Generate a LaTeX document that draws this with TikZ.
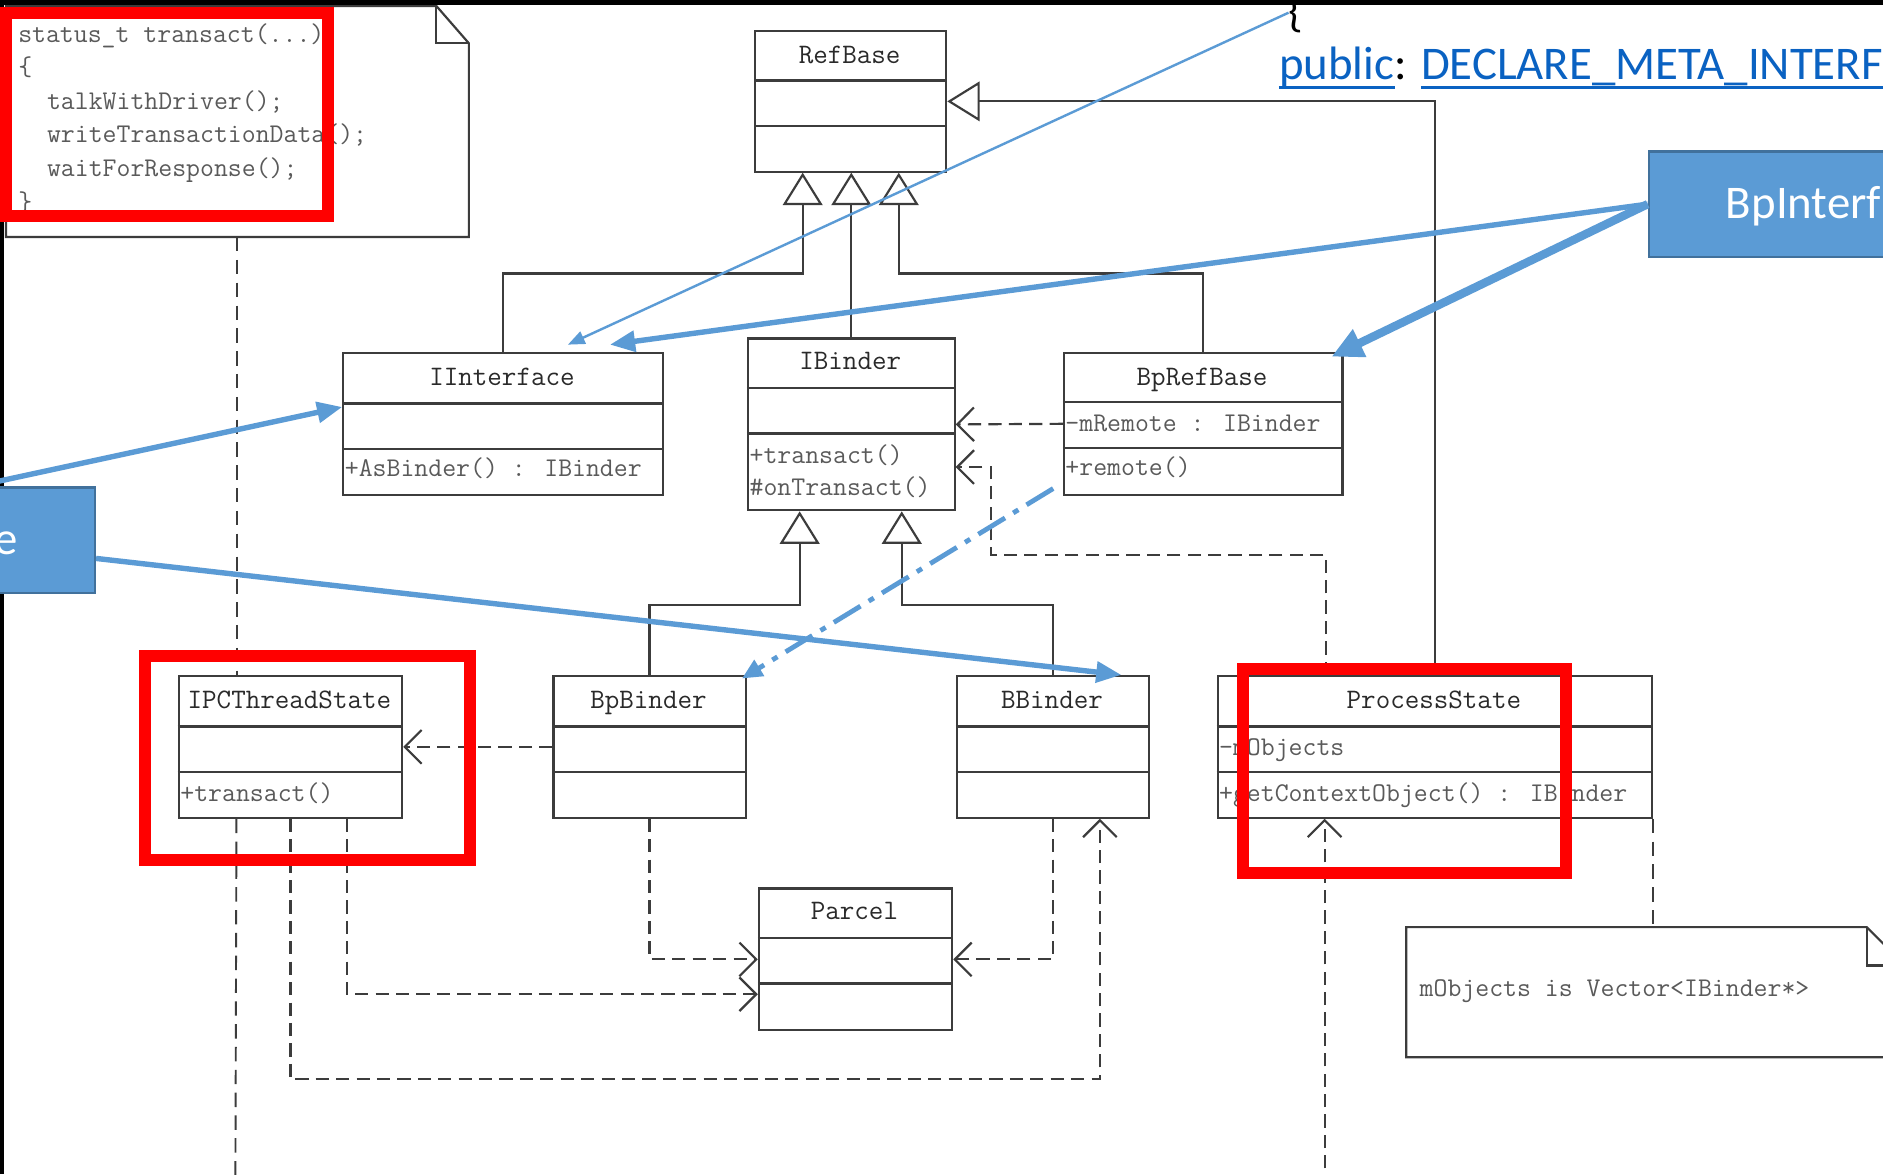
\documentclass[tikz,border=0pt]{standalone}
\usepackage{fontspec}
\newfontfamily\calibri{Carlito}
\usetikzlibrary{arrows.meta,positioning}

\definecolor{umlline}{HTML}{3C3C3C}
\definecolor{umlname}{HTML}{2A2A2A}
\definecolor{umltext}{HTML}{5A5A5A}
\definecolor{hlred}{HTML}{FF0000}
\definecolor{callblue}{HTML}{5B9BD5}
\definecolor{callborder}{HTML}{41719C}
\definecolor{linkblue}{HTML}{0A62C2}

\begin{document}
\begin{tikzpicture}[x=1pt, y=-1pt,
  cls/.style = {draw=umlline, line width=1.8pt, fill=white, inner sep=0pt, anchor=north west},
  clsname/.style = {font=\ttfamily\fontsize{23.5}{28}\selectfont, text=umlname, inner sep=0pt, anchor=base},
  member/.style = {font=\ttfamily\fontsize{22.5}{27}\selectfont, text=umltext, inner sep=0pt, anchor=base west},
  divider/.style = {draw=umlline, line width=1.8pt},
  inherit/.style = {draw=umlline, line width=1.8pt, -{Triangle[open, length=27pt, width=33pt]}},
  dep/.style = {draw=umlline, line width=1.8pt, dash pattern=on 11pt off 6pt, -{Straight Barb[length=14pt, width=28pt]}},
  life/.style = {draw=umlline, line width=1.6pt, dash pattern=on 12pt off 7pt},
  notebox/.style = {inner sep=0pt, anchor=north west},
  noteline/.style = {draw=umlline, line width=1.8pt, line join=miter},
  hilite/.style = {draw=hlred, line width=10pt},
  callout/.style = {fill=callblue, draw=callborder, line width=2pt, inner sep=0pt},
  calltext/.style = {font=\calibri\fontsize{39}{47}\selectfont, inner sep=0pt},
  thinpointer/.style = {draw=callblue, line width=2pt, -{Triangle[length=14pt, width=11pt]}},
  pointer/.style = {draw=callblue, line width=4.5pt, -{Triangle[length=21pt, width=17pt]}},
  thickpointer/.style = {draw=callblue, line width=7pt, -{Triangle[length=26pt, width=24pt]}},
  dashpointer/.style = {draw=callblue, line width=4pt, dash pattern=on 26pt off 8pt on 5pt off 8pt, -{Triangle[length=17pt, width=15pt]}}
]
\useasboundingbox (0,0) rectangle (1568,978);
\clip (0,0) rectangle (1568,978);
\fill[white] (0,0) rectangle (1568,978);
\fill[black] (0,0) rectangle (3,978);

% note with the transact code
\node[notebox, minimum width=385, minimum height=192] (note1) at (5,5) {};
\draw[noteline] (note1.south west) -- (note1.north west) -- ([xshift=-27pt]note1.north east) -- ([yshift=-31pt]note1.north east) -- (note1.south east) -- cycle;
\draw[noteline] ([xshift=-27pt]note1.north east) |- ([yshift=-31pt]note1.north east);
\node[member] (code1) at (15,35) {status\_t transact(...)};
\node[member] (code2) at (15,63) {\{};
\node[member] (code3) at (39,91) {talkWithDriver();};
\node[member] (code4) at (39,119) {writeTransactionData();};
\node[member] (code5) at (39,147) {waitForResponse();};
\node[member] (code6) at (15,175) {\}};

% classes
\node[cls, minimum width=159, minimum height=117] (refbase) at (628,25) {};
\draw[divider] (628,67) -- (787,67) (628,105) -- (787,105);
\node[clsname] (refbasename) at (707.5,53) {RefBase};

\node[cls, minimum width=266, minimum height=118] (iinterface) at (285,293) {};
\draw[divider] (285,336) -- (551,336) (285,374) -- (551,374);
\node[clsname] (iinterfacename) at (418,321) {IInterface};
\node[member] (asbinder) at (287,397) {+AsBinder() : IBinder};

\node[cls, minimum width=172, minimum height=143] (ibinder) at (622,281) {};
\draw[divider] (622,323) -- (794,323) (622,361) -- (794,361);
\node[clsname] (ibindername) at (708,308) {IBinder};
\node[member] (transact) at (624,386) {+transact()};
\node[member] (ontransact) at (624,413) {\#onTransact()};

\node[cls, minimum width=232, minimum height=118] (bprefbase) at (885,293) {};
\draw[divider] (885,335) -- (1117,335) (885,373) -- (1117,373);
\node[clsname] (bprefbasename) at (1001,321) {BpRefBase};
\node[member] (mremote) at (887,359) {-mRemote : IBinder};
\node[member] (remote) at (887,396) {+remote()};

\node[cls, minimum width=186, minimum height=118] (ipc) at (148,562) {};
\draw[divider] (148,605) -- (334,605) (148,643) -- (334,643);
\node[clsname] (ipcname) at (241,590) {IPCThreadState};
\node[member] (ipctransact) at (150,667) {+transact()};

\node[cls, minimum width=160, minimum height=118] (bpbinder) at (460,562) {};
\draw[divider] (460,605) -- (620,605) (460,643) -- (620,643);
\node[clsname] (bpbindername) at (540,590) {BpBinder};

\node[cls, minimum width=160, minimum height=118] (bbinder) at (796,562) {};
\draw[divider] (796,605) -- (956,605) (796,643) -- (956,643);
\node[clsname] (bbindername) at (876,590) {BBinder};

\node[cls, minimum width=362, minimum height=118] (processstate) at (1013,562) {};
\draw[divider] (1013,605) -- (1375,605) (1013,643) -- (1375,643);
\node[clsname] (processstatename) at (1194,590) {ProcessState};
\node[member] (mobjects) at (1015,629) {-mObjects};
\node[member] (getcontext) at (1015,667) {+getContextObject() : IBinder};

\node[cls, minimum width=161, minimum height=118] (parcel) at (631,739) {};
\draw[divider] (631,781) -- (792,781) (631,819) -- (792,819);
\node[clsname] (parcelname) at (711.5,766) {Parcel};

% note on mObjects
\node[notebox, minimum width=415, minimum height=108] (note2) at (1171,772) {};
\draw[noteline] (note2.south west) -- (note2.north west) -- ([xshift=-32pt]note2.north east) -- ([yshift=-32pt]note2.north east) -- (note2.south east) -- cycle;
\draw[noteline] ([xshift=-32pt]note2.north east) |- ([yshift=-32pt]note2.north east);
\node[member] (vecnote) at (1182,830) {mObjects is Vector<IBinder*>};

% inheritance
\draw[inherit] (iinterface.north) |- ([xshift=-40pt,yshift=-84pt]refbase.south) -- ([xshift=-40pt]refbase.south);
\draw[inherit] (ibinder.north) -- (ibinder.north |- refbase.south);
\draw[inherit] (bprefbase.north) |- ([xshift=40pt,yshift=-84pt]refbase.south) -- ([xshift=40pt]refbase.south);
\draw[inherit] (processstate.north) |- (refbase.east);
\draw[inherit] (bpbinder.north) |- ([xshift=-43pt,yshift=-78pt]ibinder.south) -- ([xshift=-43pt]ibinder.south);
\draw[inherit] (bbinder.north) |- ([xshift=42pt,yshift=-78pt]ibinder.south) -- ([xshift=42pt]ibinder.south);

% dependencies
\coordinate (ipcfoot) at (196,990);
\coordinate (psfoot) at (1103,990);
\draw[dep] (bprefbase.west) -- (ibinder.east);
\draw[dep] ([xshift=-91pt]processstate.north) |- (825,462) |- ([yshift=-35.5pt]ibinder.east);
\draw[dep] (bpbinder.west) -- (ipc.east);
\draw[dep] (bpbinder.south) |- (parcel.west);
\draw[dep] (bbinder.south) |- (parcel.east);
\draw[dep] ([xshift=47pt]ipc.south) |- ([yshift=-29pt]parcel.west);
\draw[dep] (ipc.south) |- ([xshift=39pt,yshift=-217pt]bbinder.south) -- ([xshift=39pt]bbinder.south);
\draw[dep] (psfoot) -- (psfoot |- processstate.south);
\draw[life] (note1.south) -- (note1.south |- ipc.north);
\draw[life] ([xshift=-45pt]ipc.south) -- (ipcfoot);
\draw[life] (processstate.south east) -- (processstate.south east |- note2.north);

% red marks
\draw[hilite] (5,11) rectangle (273,180);
\draw[hilite] (121,546) rectangle (391,716);
\draw[hilite] (1035,557) rectangle (1304,727);

% blue callouts
\node[callout, anchor=north west, minimum width=240, minimum height=88] (bpiface) at (1372,125) {};
\node[calltext, text=white, anchor=base west] (bpifacelabel) at (1437,182) {BpInterf};
\node[callout, anchor=north east, minimum width=200, minimum height=88] (leftbox) at (80,405) {};
\node[calltext, text=white, anchor=base east] (leftboxlabel) at (15,462) {e};

\node[calltext, anchor=base west] (brace) at (1073,22) {\{};
\node[calltext, text=linkblue, anchor=base west] (pub) at (1065,66) {public};
\node[calltext, base right=0pt of pub] (colon) {:};
\node[calltext, text=linkblue, base right=11pt of colon] (macro) {DECLARE\_META\_INTERF};
\draw[linkblue, line width=2pt] ([yshift=-7pt]pub.base west) -- ([yshift=-7pt]pub.base east);
\draw[linkblue, line width=2pt] ([yshift=-7pt]macro.base west) -- ([yshift=-7pt]macro.base east);

\draw[thinpointer] (brace.west) -- ([xshift=54pt,yshift=6pt]iinterface.north);
\draw[pointer] (bpiface.west) -- ([xshift=89pt,yshift=6pt]iinterface.north);
\draw[thickpointer] (bpiface.west) -- ([xshift=-10pt,yshift=-4pt]bprefbase.north east);
\draw[pointer] (leftbox.north) -- ([yshift=14pt]iinterface.west);
\draw[pointer] ([yshift=-15pt]leftbox.east) -- ([xshift=-24pt]bbinder.north east);
\draw[dashpointer] ([xshift=-8pt,yshift=6pt]bprefbase.south west) -- ([xshift=-4pt,yshift=-3pt]bpbinder.north east);

\fill[black] (0,0) rectangle (1568,4);
\end{tikzpicture}
\end{document}
